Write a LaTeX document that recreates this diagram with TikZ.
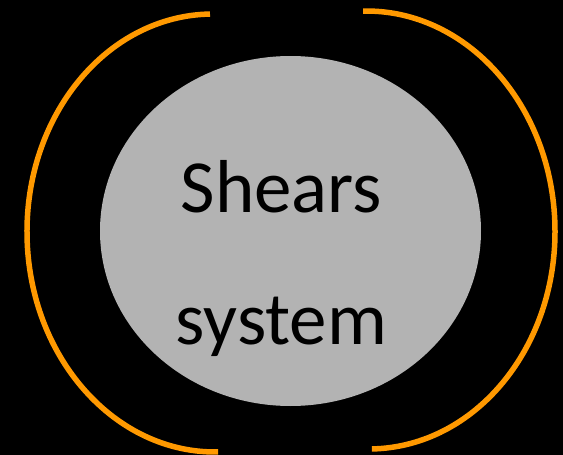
\documentclass[tikz,border=0pt]{standalone}
\usepackage{fontspec}
\setmainfont{Carlito}
\usetikzlibrary{shapes.geometric}
\definecolor{arcorange}{RGB}{255,153,0}
\definecolor{sysgrey}{RGB}{179,179,179}
\tikzset{
  arcline/.style={draw=arcorange, line width=5.5pt, line cap=butt},
  bigtext/.style={font=\fontsize{75}{78}\selectfont, text=black, inner sep=0pt, anchor=base},
}
\begin{document}
\begin{tikzpicture}[x=1pt,y=-1pt]
\fill[black] (0,0) rectangle (563,455);
\useasboundingbox (0,0) rectangle (563,455);
\node[ellipse, fill=sysgrey, minimum width=381pt, minimum height=350pt, inner sep=0pt] (sys) at (290.5,231) {};
\node[bigtext] (t1) at (281.5,212) {Shears};
\node[bigtext] (t2) at (281.5,344) {system};
\coordinate (lc) at (214,233);
\coordinate (rc) at (367.5,230);
\draw[arcline, rotate around={1.05:(lc)}] (214,14) arc[start angle=90, end angle=270, x radius=187pt, y radius=219pt];
\draw[arcline, rotate around={1.15:(rc)}] (367.5,11) arc[start angle=90, end angle=-90, x radius=187.5pt, y radius=219pt];
\end{tikzpicture}
\end{document}
